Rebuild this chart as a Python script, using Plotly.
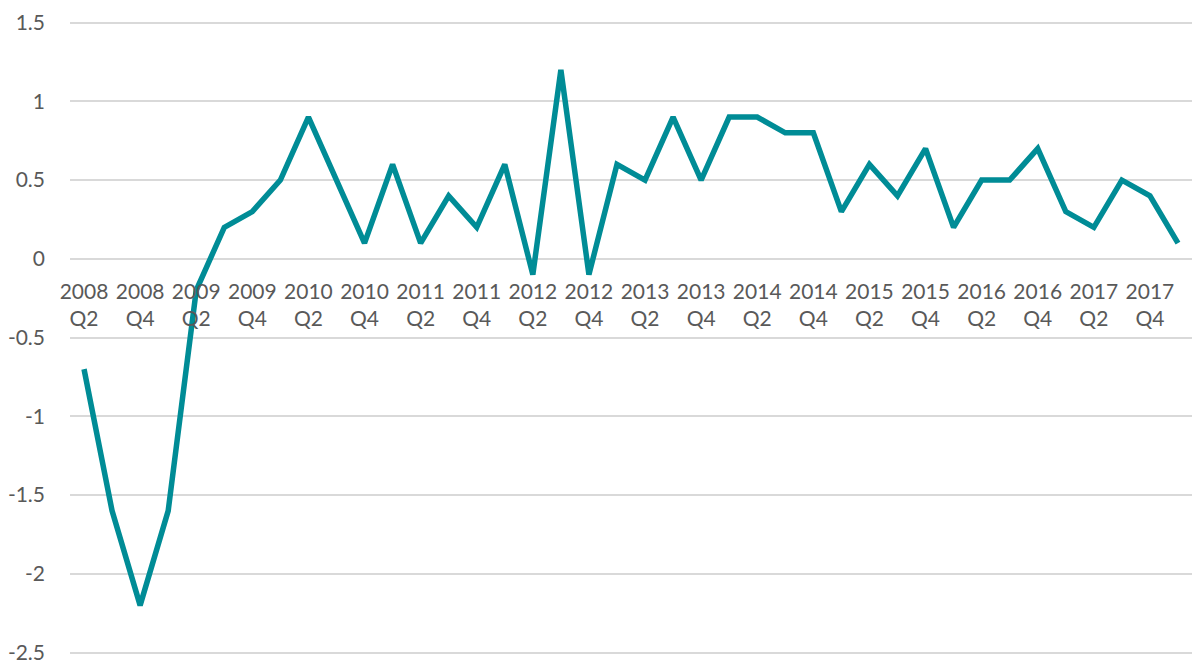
import plotly.graph_objects as go

quarters = [f"{y} Q{q}" for y in range(2008, 2019) for q in range(1, 5)][1:41]
values = [-0.7, -1.6, -2.2, -1.6, -0.2, 0.2, 0.3, 0.5, 0.9, 0.5,
          0.1, 0.6, 0.1, 0.4, 0.2, 0.6, -0.1, 1.2, -0.1, 0.6,
          0.5, 0.9, 0.5, 0.9, 0.9, 0.8, 0.8, 0.3, 0.6, 0.4,
          0.7, 0.2, 0.5, 0.5, 0.7, 0.3, 0.2, 0.5, 0.4, 0.1]
tick_vals = quarters[::2]
tick_text = [q.replace(" ", "<br>") for q in tick_vals]
y_ticks = [1.5, 1, 0.5, 0, -0.5, -1, -1.5, -2, -2.5]

fig = go.Figure()
fig.add_trace(go.Scatter(x=quarters, y=values, mode="lines",
                         line=dict(color="#008C96", width=5.5), showlegend=False))

font = dict(family="Lato, Carlito, Calibri, sans-serif", size=21, color="#595959")
fig.update_layout(
    width=1192, height=662,
    margin=dict(l=70, r=0, t=21, b=7),
    paper_bgcolor="white", plot_bgcolor="white",
    font=font,
    xaxis=dict(type="category", categoryorder="array", categoryarray=quarters,
               range=[-0.5, 39.5], tickvals=tick_vals, ticktext=tick_text,
               showgrid=False, zeroline=False, showline=False, ticks="",
               anchor="free", position=(654.9 - 259) / 633.9, automargin=False,
               ticklabelstandoff=18, tickfont=font),
    yaxis=dict(range=[-2.515, 1.51], tickvals=y_ticks,
               ticktext=[str(v) for v in y_ticks], automargin=False,
               showgrid=True, gridcolor="#D9D9D9", gridwidth=1.5,
               zeroline=False, showline=False, ticks="",
               ticklabeloverflow="allow",
               ticklabelstandoff=24, tickfont=font),
)
fig.write_html("out.html", config={"displayModeBar": False},
               post_script="document.body.style.margin='0';"
                           "document.body.style.overflow='hidden';")
